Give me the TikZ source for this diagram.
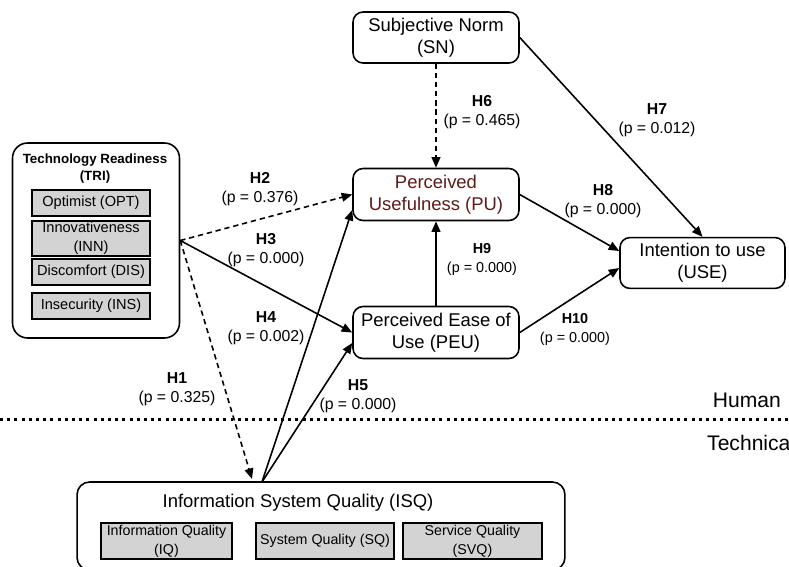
\documentclass[tikz,border=0pt]{standalone}
\usepackage{fontspec}
\setmainfont{Liberation Sans}
\usetikzlibrary{arrows.meta, positioning}
\definecolor{mGray}{HTML}{D3D3D3}
\definecolor{mMaroon}{HTML}{5E1B1B}

\begin{document}
\begin{tikzpicture}[x=0.02cm, y=-0.02cm,
      box/.style={draw, rounded corners=0.2cm, line width=0.9pt, minimum width=3.32cm,
        minimum height=1.04cm, align=center, font=\fontsize{10.5}{12.5}\selectfont},
      gbox/.style={draw, fill=mGray, line width=0.6pt, inner sep=0.5pt, align=center,
        minimum width=2.36cm, minimum height=0.52cm, font=\fontsize{8.3}{10.8}\selectfont},
      lbl/.style={align=center, font=\fontsize{9}{10.8}\selectfont},
      arr/.style={-{Triangle[length=6pt, width=5pt]}, line width=0.9pt},
      dsh/.style={arr, dash pattern=on 3pt off 2.2pt}]
    \useasboundingbox (0,0) rectangle (789,566);

    % human side
    \node[draw, rounded corners=0.3cm, line width=0.9pt, minimum width=3.34cm,
      minimum height=3.9cm] (tri) at (96,240.5) {};
    \node[align=center, font=\bfseries\fontsize{7.6}{9.7}\selectfont] (trit) at (95,168.5)
      {Technology Readiness\\(TRI)};
    \node[gbox] (opt) at (91,203) {Optimist (OPT)};
    \node[gbox, minimum height=0.7cm] (inn) at (91,238.5) {Innovativeness\\(INN)};
    \node[gbox] (dis) at (91,272) {Discomfort (DIS)};
    \node[gbox] (ins) at (91,306) {Insecurity (INS)};

    \node[box, minimum height=1.02cm] (sn) at (436,37.5) {Subjective Norm\\(SN)};
    \node[box, text=mMaroon] (pu) at (436,194.5) {Perceived\\Usefulness (PU)};
    \node[box] (peu) at (436,332.5) {Perceived Ease of\\Use (PEU)};
    \node[box, minimum width=3.3cm, minimum height=1cm] (use) at (702.5,263) {Intention to use\\(USE)};

    % technical side
    \node[draw, rounded corners=0.25cm, line width=0.9pt, minimum width=9.76cm,
      minimum height=1.76cm] (isq) at (321,526) {};
    \node[font=\fontsize{10.5}{12.5}\selectfont] (isqt) at (298,503) {Information System Quality (ISQ)};
    \node[gbox, minimum width=2.62cm, minimum height=0.72cm, font=\fontsize{8.1}{11}\selectfont]
      (iq) at (166.5,541) {Information Quality\\(IQ)};
    \node[gbox, minimum width=2.76cm, minimum height=0.72cm, font=\fontsize{8.1}{11}\selectfont]
      (sq) at (325,541) {System Quality (SQ)};
    \node[gbox, minimum width=2.78cm, minimum height=0.72cm, font=\fontsize{8.1}{11}\selectfont]
      (svq) at (472.5,541) {Service Quality\\(SVQ)};
    \coordinate (isqa) at (252,479);
    \coordinate (isqb) at (262,482);

    \draw[line width=1.7pt, dash pattern=on 1.7pt off 2.4pt] (0,419) -- (789,419);
    \node[anchor=east, font=\fontsize{12}{14}\selectfont] (hum) at (787,400) {Human};
    \node[anchor=west, font=\fontsize{12}{14}\selectfont] (tec) at (701,443) {Technica};

    % paths
    \draw[dsh] (tri.east) -- (isqa);
    \draw[dsh] (tri.east) -- (pu.west);
    \draw[arr] (tri.east) -- (peu.west);
    \draw[arr] (isqb) -- ([yshift=-0.31cm]pu.west);
    \draw[arr] (isqb) -- ([yshift=-0.21cm]peu.west);
    \draw[dsh] (sn.south) -- (pu.north);
    \draw[arr] (sn.east) -- (use.north);
    \draw[arr] (pu.east) -- ([yshift=0.24cm]use.west);
    \draw[arr] (peu.north) -- (pu.south);
    \draw[arr] (peu.east) -- ([yshift=-0.1cm]use.west);

    \node[lbl] (h1) at (177,389) {\textbf{H1}\\(p = 0.325)};
    \node[lbl] (h2) at (260,189) {\textbf{H2}\\(p = 0.376)};
    \node[lbl] (h3) at (266,250) {\textbf{H3}\\(p = 0.000)};
    \node[lbl] (h4) at (266,328) {\textbf{H4}\\(p = 0.002)};
    \node[lbl] (h5) at (358,396) {\textbf{H5}\\(p = 0.000)};
    \node[lbl] (h6) at (482,112) {\textbf{H6}\\(p = 0.465)};
    \node[lbl] (h7) at (657,120) {\textbf{H7}\\(p = 0.012)};
    \node[lbl] (h8) at (603,201) {\textbf{H8}\\(p = 0.000)};
    \node[lbl, font=\fontsize{8.2}{10.8}\selectfont] (h9) at (482,259) {\textbf{H9}\\(p = 0.000)};
    \node[lbl, font=\fontsize{8.2}{10.8}\selectfont] (h10) at (575,329) {\textbf{H10}\\(p = 0.000)};
  \end{tikzpicture}
\end{document}
